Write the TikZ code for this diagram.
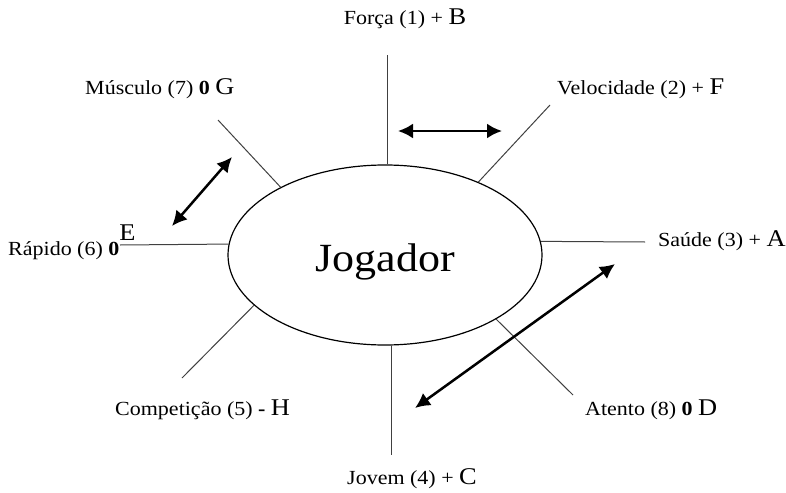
\documentclass[tikz,border=0pt]{standalone}
\usepackage{fontspec}
\setmainfont[FakeStretch=1.1]{Liberation Serif}
\usetikzlibrary{shapes.geometric,arrows.meta}
\newcommand{\letra}[1]{{\fontsize{24}{24}\selectfont #1}}
\newcommand{\zero}{\textbf{0}}

\begin{document}
\begin{tikzpicture}[x=1pt,y=-1pt,
  rotulo/.style={font=\fontsize{20}{22}\selectfont, inner sep=0pt},
  raio/.style={line width=1pt, black!75},
  seta/.style={line width=2.5pt, {Latex[length=15pt,width=15pt]}-{Latex[length=15pt,width=15pt]}}]
  \useasboundingbox (0,0) rectangle (786,492);
  % central ellipse
  \node[draw, ellipse, line width=1.2pt, minimum width=314pt, minimum height=180pt] (jog) at (385,255) {};
  \node[font=\fontsize{40}{42}\selectfont, inner sep=0pt] (jt) at ([yshift=-7pt]jog.center) {Jogador};
  % outer ends of the spokes
  \coordinate (f1) at (387,55);
  \coordinate (v2) at (550,105);
  \coordinate (s3) at (645,242);
  \coordinate (j4) at (391,455);
  \coordinate (c5) at (182,378);
  \coordinate (r6) at (120,245);
  \coordinate (m7) at (218,120);
  \coordinate (a8) at (573,395);
  % spokes
  \draw[raio] (f1 |- jog.north) -- (f1);
  \draw[raio] (jog.38) -- (v2);
  \draw[raio] (jog.5) -- (s3);
  \draw[raio] (j4 |- jog.south) -- (j4);
  \draw[raio] (jog.201) -- (c5);
  \draw[raio] (jog.176) -- (r6);
  \draw[raio] (jog.147.5) -- (m7);
  \draw[raio] (jog.-30) -- (a8);
  % labels
  \node[rotulo, anchor=base] (tf1) at (405,25) {Força (1) + \letra{B}};
  \node[rotulo, anchor=base west] (tv2) at (557,95) {Velocidade (2) + \letra{F}};
  \node[rotulo, anchor=base west] (ts3) at (658,246) {Saúde (3) + \letra{A}};
  \node[rotulo, anchor=base] (tj4) at (412,484) {Jovem (4) + \letra{C}};
  \node[rotulo, anchor=base west] (tc5) at (115,415) {Competição (5) \textbf{-} \letra{H}};
  \node[rotulo, anchor=base west] (tr6) at (8,255) {Rápido (6) \zero\raisebox{15pt}{\letra{E}}};
  \node[rotulo, anchor=base west] (tm7) at (85,95) {Músculo (7) \zero\ \letra{G}};
  \node[rotulo, anchor=base west] (ta8) at (585,415) {Atento (8) \zero\ \letra{D}};
  % double arrows
  \coordinate (p1) at (398,131);
  \coordinate (q1) at (502,131);
  \coordinate (p2) at (172,226);
  \coordinate (q2) at (232,157);
  \coordinate (p3) at (415,408);
  \coordinate (q3) at (615,264);
  \draw[seta] (p1) -- (q1);
  \draw[seta] (p2) -- (q2);
  \draw[seta] (p3) -- (q3);
\end{tikzpicture}
\end{document}
